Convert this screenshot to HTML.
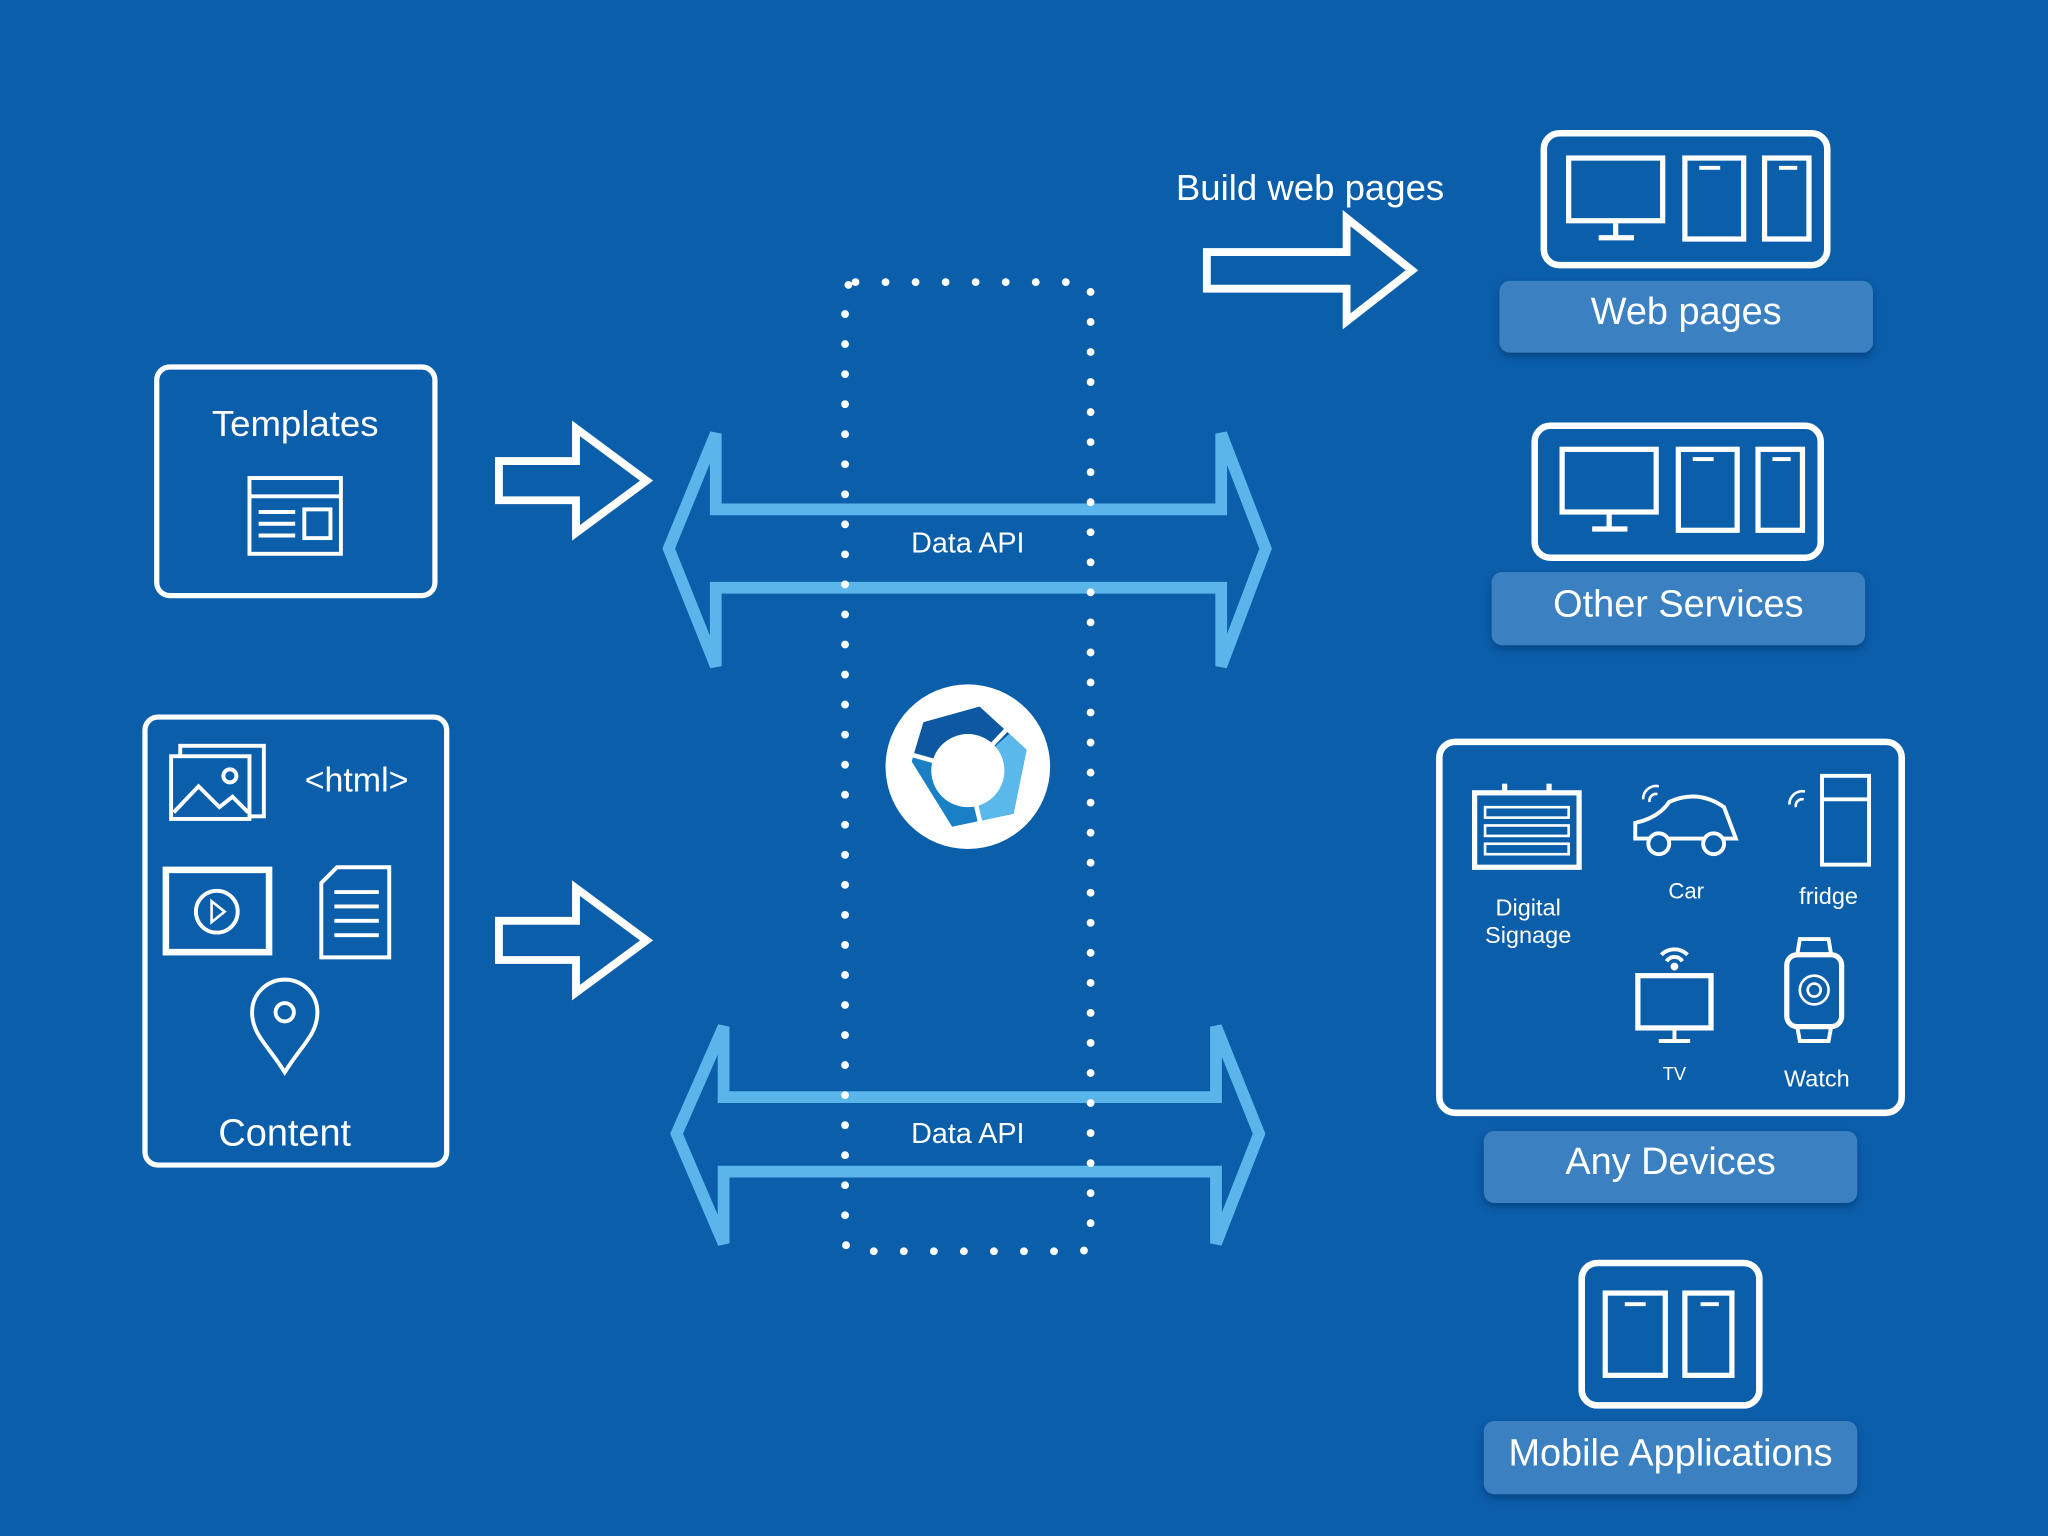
<!DOCTYPE html>
<html><head><meta charset="utf-8"><style>
html,body{margin:0;padding:0;background:#0b5eaa;}
svg{display:block}
text{font-family:"Liberation Sans","DejaVu Sans",sans-serif;fill:#fff}
</style></head><body>
<svg width="2048" height="1536" viewBox="0 0 1568 1176" xmlns="http://www.w3.org/2000/svg">
<defs>
<filter id="sh" x="-10%" y="-20%" width="120%" height="160%"><feDropShadow dx="0" dy="3" stdDeviation="3" flood-color="#03356a" flood-opacity="0.6"/></filter>
<clipPath id="pent"><path d="M707 553 L750 541 L786 574 L776 623 L729 633 L698 583 Z"/></clipPath>
</defs>
<rect width="1568" height="1176" fill="#0b5eaa"/>
<g fill="none" stroke="#fff" stroke-width="4">
<rect x="120" y="281" width="213" height="175" rx="10"/>
<rect x="191" y="366" width="70" height="58" stroke-width="3"/>
<line x1="191" y1="380" x2="261" y2="380" stroke-width="3"/>
<line x1="198" y1="392" x2="226" y2="392" stroke-width="3"/>
<line x1="198" y1="401" x2="226" y2="401" stroke-width="3"/>
<line x1="198" y1="410" x2="226" y2="410" stroke-width="3"/>
<rect x="233" y="390" width="20" height="22" stroke-width="3"/>
<rect x="111" y="549" width="231" height="343" rx="10"/>
<rect x="138" y="571" width="64" height="54" stroke-width="3"/>
<rect x="131" y="579" width="60" height="48" stroke-width="3" fill="#0b5eaa"/>
<polyline points="133,622 152,602 168,618 178,610 190,622" stroke-width="3"/>
<circle cx="176" cy="594" r="5" stroke-width="3"/>
<rect x="127" y="666" width="79" height="63" stroke-width="5"/>
<circle cx="166" cy="698" r="16" stroke-width="3"/>
<path d="M162 690 L172 698 L162 706 Z" stroke-width="2"/>
<path d="M258 664 L298 664 L298 733 L246 733 L246 676 Z" stroke-width="3"/>
<line x1="256" y1="683" x2="290" y2="683" stroke-width="3"/>
<line x1="256" y1="694" x2="290" y2="694" stroke-width="3"/>
<line x1="256" y1="705" x2="290" y2="705" stroke-width="3"/>
<line x1="256" y1="716" x2="290" y2="716" stroke-width="3"/>
<path d="M218 821 C205 800 193 792 193 775 A25 25 0 0 1 243 775 C243 792 231 800 218 821 Z" stroke-width="3"/>
<circle cx="218" cy="775" r="7" stroke-width="3"/>
<path d="M382 353 L441 353 L441 328 L495 368 L441 408 L441 383 L382 383 Z" stroke-width="6"/>
<path d="M382 705 L441 705 L441 680 L495 720 L441 760 L441 735 L382 735 Z" stroke-width="6"/>
<path d="M924 193 L1031 193 L1031 167 L1081 207 L1031 246 L1031 221 L924 221 Z" stroke-width="6"/>
</g>
<text x="226" y="334" font-size="28" text-anchor="middle">Templates</text>
<text x="273" y="606" font-size="26" text-anchor="middle">&lt;html&gt;</text>
<text x="218" y="877" font-size="29" text-anchor="middle">Content</text>
<text x="1003" y="153" font-size="28" text-anchor="middle">Build web pages</text>
<g fill="none" stroke="#5ab6ea" stroke-width="9" stroke-linejoin="miter">
<path d="M548 332 L548 390 L935 390 L935 332 L969 420 L935 510 L935 450 L548 450 L548 510 L512 420 Z"/>
<path d="M554 786 L554 840 L931 840 L931 786 L964 868 L931 952 L931 897 L554 897 L554 952 L518 868 Z"/>
</g>
<text x="741" y="423" font-size="22" text-anchor="middle">Data API</text>
<text x="741" y="875" font-size="22" text-anchor="middle">Data API</text>
<rect x="647" y="216" width="188" height="742" rx="8" fill="none" stroke="#fff" stroke-width="6" stroke-linecap="round" stroke-dasharray="0 23"/>
<circle cx="741" cy="587" r="63" fill="#fff"/>
<g clip-path="url(#pent)">
<rect x="690" y="530" width="110" height="110" fill="#1a80c6"/>
<path d="M741 590 L640 560 L700 480 L820 520 Z" fill="#0d58a0"/>
<path d="M741 590 L820 520 L820 660 L760 680 Z" fill="#5ab8ea"/>
</g>
<g stroke="#fff" stroke-width="3.5">
<line x1="741" y1="590" x2="695" y2="577"/>
<line x1="741" y1="590" x2="773" y2="556"/>
<line x1="741" y1="590" x2="752" y2="636"/>
</g>
<circle cx="741" cy="590" r="28" fill="#fff"/>
<g fill="none" stroke="#fff" stroke-width="5">
<rect x="1182" y="102" width="217" height="101" rx="12"/>
<rect x="1201" y="121" width="72" height="48" stroke-width="4"/>
<line x1="1237" y1="169" x2="1237" y2="182" stroke-width="4"/><line x1="1224" y1="182" x2="1251" y2="182" stroke-width="4"/>
<rect x="1290" y="121" width="45" height="62" stroke-width="4"/>
<rect x="1351" y="121" width="34" height="62" stroke-width="4"/>
<rect x="1175" y="326" width="219" height="101" rx="12"/>
<rect x="1196" y="344" width="72" height="48" stroke-width="4"/>
<line x1="1232" y1="392" x2="1232" y2="405" stroke-width="4"/><line x1="1219" y1="405" x2="1246" y2="405" stroke-width="4"/>
<rect x="1285" y="344" width="45" height="62" stroke-width="4"/>
<rect x="1346" y="344" width="34" height="62" stroke-width="4"/>
<rect x="1102" y="568" width="354" height="284" rx="12"/>
<rect x="1211" y="967" width="136" height="109" rx="12"/>
<rect x="1229" y="990" width="46" height="63" stroke-width="4"/>
<rect x="1290" y="990" width="36" height="63" stroke-width="4"/>
<rect x="1129" y="607" width="80" height="57" stroke-width="4"/>
<line x1="1152" y1="600" x2="1152" y2="607" stroke-width="4"/><line x1="1186" y1="600" x2="1186" y2="607" stroke-width="4"/>
<rect x="1137" y="618" width="64" height="8" stroke-width="2"/>
<rect x="1137" y="632" width="64" height="8" stroke-width="2"/>
<rect x="1137" y="646" width="64" height="8" stroke-width="2"/>
<path d="M1252 642 L1252 630 Q1270 626 1278 614 Q1300 604 1320 618 L1329 642 Z" stroke-width="3"/>
<circle cx="1270" cy="646" r="8" stroke-width="3" fill="#0b5eaa"/>
<circle cx="1312" cy="646" r="8" stroke-width="3" fill="#0b5eaa"/>
<path d="M1258 612 a10 10 0 0 1 12 -10 M1263 614 a5 5 0 0 1 6 -6" stroke-width="2"/>
<rect x="1395" y="594" width="36" height="68" stroke-width="3"/>
<line x1="1395" y1="612" x2="1431" y2="612" stroke-width="3"/>
<path d="M1370 616 a10 10 0 0 1 12 -10 M1375 618 a5 5 0 0 1 6 -6" stroke-width="2"/>
<rect x="1254" y="747" width="56" height="40" stroke-width="4"/>
<line x1="1282" y1="787" x2="1282" y2="797" stroke-width="3"/><line x1="1270" y1="797" x2="1294" y2="797" stroke-width="3"/>
<path d="M1272 731 a14 14 0 0 1 20 0 M1276 736 a7 7 0 0 1 12 0" stroke-width="3"/>
<rect x="1368" y="731" width="42" height="55" rx="8" stroke-width="4"/>
<path d="M1376 731 L1378 719 L1400 719 L1402 731 M1376 786 L1378 797 L1400 797 L1402 786" stroke-width="3"/>
<circle cx="1389" cy="758" r="11" stroke-width="2"/>
<circle cx="1389" cy="758" r="5" stroke-width="2"/>
</g>
<g fill="#fff">
<rect x="1301" y="127" width="16" height="3"/><rect x="1362" y="127" width="14" height="3"/>
<rect x="1296" y="350" width="16" height="3"/><rect x="1357" y="350" width="14" height="3"/>
<rect x="1244" y="997" width="16" height="3"/><rect x="1302" y="997" width="14" height="3"/>
<circle cx="1282" cy="740" r="3"/>
</g>
<text x="1170" y="701" font-size="18" text-anchor="middle">Digital</text>
<text x="1170" y="722" font-size="18" text-anchor="middle">Signage</text>
<text x="1291" y="688" font-size="17" text-anchor="middle">Car</text>
<text x="1400" y="692" font-size="18" text-anchor="middle">fridge</text>
<text x="1282" y="827" font-size="14" text-anchor="middle">TV</text>
<text x="1391" y="832" font-size="18" text-anchor="middle">Watch</text>
<g fill="#3b80c0" filter="url(#sh)">
<rect x="1148" y="215" width="286" height="55" rx="8"/>
<rect x="1142" y="438" width="286" height="56" rx="8"/>
<rect x="1136" y="866" width="286" height="55" rx="8"/>
<rect x="1136" y="1088" width="286" height="56" rx="8"/>
</g>
<text x="1291" y="248" font-size="29" text-anchor="middle">Web pages</text>
<text x="1285" y="472" font-size="29" text-anchor="middle">Other Services</text>
<text x="1279" y="899" font-size="29" text-anchor="middle">Any Devices</text>
<text x="1279" y="1122" font-size="29" text-anchor="middle">Mobile Applications</text>
</svg>
</body></html>
